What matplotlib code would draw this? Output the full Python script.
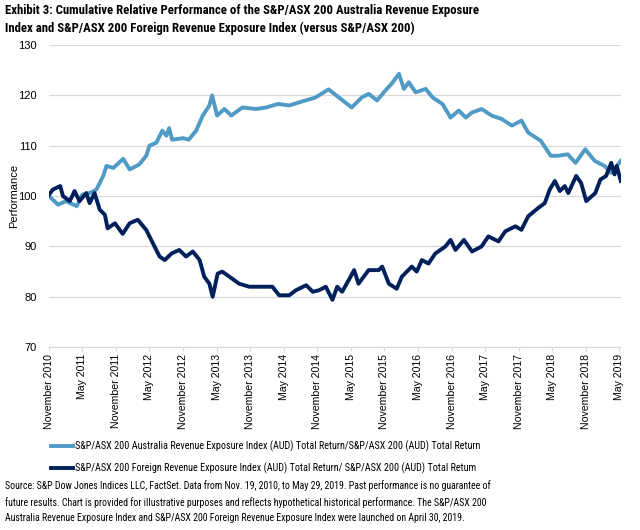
import matplotlib
matplotlib.use("Agg")
import matplotlib.pyplot as plt
import numpy as np
import pandas as pd

plt.rcParams['font.family'] = ['Liberation Sans', 'DejaVu Sans']
NARROW = ['Liberation Sans Narrow', 'Roboto Condensed', 'Archivo Narrow', 'Liberation Sans']

TITLE = ("Exhibit 3: Cumulative Relative Performance of the S&P/ASX 200 Australia Revenue Exposure\n"
         "Index and S&P/ASX 200 Foreign Revenue Exposure Index (versus S&P/ASX 200)")
SOURCE = ("Source: S&P Dow Jones Indices LLC, FactSet. Data from Nov. 19, 2010, to May 29, 2019. Past performance is no guarantee of\n"
          "future results. Chart is provided for illustrative purposes and reflects hypothetical historical performance. The S&P/ASX 200\n"
          "Australia Revenue Exposure Index and S&P/ASX 200 Foreign Revenue Exposure Index were launched on April 30, 2019.")
aus_label = "S&P/ASX 200 Australia Revenue Exposure Index (AUD) Total Return/S&P/ASX 200 (AUD) Total Return"
for_label = "S&P/ASX 200 Foreign Revenue Exposure Index (AUD) Total Return/ S&P/ASX 200 (AUD) Total Retum"

# values
aus_dates = ["2010-11-19", "2011-01-07", "2011-02-19", "2011-04-19", "2011-05-19", "2011-06-28",
             "2011-08-04", "2011-09-10", "2011-09-28", "2011-11-04", "2011-12-28", "2012-02-01",
             "2012-03-25", "2012-05-01", "2012-05-19", "2012-06-25", "2012-07-28", "2012-08-19",
             "2012-09-03", "2012-09-19", "2012-11-19", "2012-12-19", "2013-01-28", "2013-03-05",
             "2013-04-10", "2013-04-25", "2013-05-22", "2013-07-01", "2013-08-07", "2013-10-07",
             "2013-12-19", "2014-02-13", "2014-04-19", "2014-06-19", "2014-08-10", "2014-11-10",
             "2015-01-19", "2015-03-16", "2015-05-25", "2015-07-19", "2015-08-25", "2015-10-10",
             "2015-11-25", "2015-12-28", "2016-02-06", "2016-03-04", "2016-03-31", "2016-05-07",
             "2016-07-01", "2016-08-07", "2016-09-30", "2016-11-13", "2016-12-28", "2017-02-04",
             "2017-03-10", "2017-05-01", "2017-06-25", "2017-08-19", "2017-10-13", "2017-12-04",
             "2018-01-10", "2018-03-19", "2018-05-13", "2018-06-19", "2018-08-13", "2018-09-25",
             "2018-11-16", "2019-01-07", "2019-03-01", "2019-04-07", "2019-05-29"]
aus_values = [100, 98.3, 99, 98, 100.3, 100.6,
              101.3, 104, 106, 105.6, 107.4, 105.3,
              106.3, 108, 110, 110.6, 113, 112,
              113.5, 111.2, 111.5, 111.2, 113, 116,
              118, 120, 116, 117.3, 116, 117.6,
              117.3, 117.6, 118.3, 118, 118.6, 119.6,
              121.2, 119.6, 117.6, 119.6, 120.3, 119,
              121, 122.3, 124.3, 121.3, 122.6, 120.6,
              121.3, 119.6, 118.3, 115.6, 117, 115.6,
              116.6, 117.3, 116, 115.3, 114, 115,
              112.6, 111, 108, 108, 108.3, 106.6,
              109.3, 107, 106, 104.6, 107]

for_dates = ["2010-11-19", "2010-12-10", "2011-01-19", "2011-02-03", "2011-03-12", "2011-04-07",
             "2011-05-04", "2011-06-10", "2011-06-28", "2011-07-25", "2011-08-22", "2011-09-19",
             "2011-10-04", "2011-11-13", "2011-12-25", "2012-02-01", "2012-03-16", "2012-05-01",
             "2012-06-07", "2012-07-13", "2012-08-10", "2012-09-16", "2012-10-28", "2012-12-04",
             "2013-01-10", "2013-02-16", "2013-03-13", "2013-04-10", "2013-04-28", "2013-05-25",
             "2013-06-19", "2013-07-28", "2013-09-19", "2013-11-13", "2014-01-25", "2014-03-19",
             "2014-04-25", "2014-06-19", "2014-07-25", "2014-09-19", "2014-10-25", "2014-11-28",
             "2015-01-04", "2015-02-09", "2015-03-07", "2015-04-03", "2015-05-19", "2015-06-07",
             "2015-07-01", "2015-08-25", "2015-10-19", "2015-11-07", "2015-12-13", "2016-01-25",
             "2016-02-22", "2016-04-16", "2016-05-13", "2016-06-10", "2016-07-16", "2016-08-22",
             "2016-10-16", "2016-11-13", "2016-12-10", "2017-01-25", "2017-03-10", "2017-05-01",
             "2017-06-07", "2017-08-01", "2017-09-07", "2017-11-01", "2017-12-04", "2018-01-10",
             "2018-03-04", "2018-04-10", "2018-05-07", "2018-06-04", "2018-07-01", "2018-07-28",
             "2018-08-16", "2018-09-28", "2018-10-25", "2018-11-22", "2019-01-10", "2019-02-07",
             "2019-03-10", "2019-04-07", "2019-04-25", "2019-05-07", "2019-05-29"]
for_values = [100.3, 101.3, 102, 100, 99, 101,
              99, 100.6, 98.6, 100.6, 97.3, 96.3,
              93.6, 94.6, 92.5, 94.6, 95.3, 93.3,
              90.6, 88, 87.3, 88.6, 89.3, 88,
              89, 87.3, 84, 82.6, 80, 84.6,
              85, 84, 82.6, 82, 82, 82,
              80.3, 80.3, 81.3, 82.3, 81, 81.3,
              82, 79.4, 82, 81, 84, 85.3,
              82.6, 85.3, 85.3, 86, 82.6, 81.6,
              84, 86, 85, 87.3, 86.6, 88.6,
              90, 91.3, 89.3, 91.3, 89, 90,
              92, 91, 93, 94, 93.3, 96,
              97.6, 98.6, 101.3, 103, 101, 102,
              100.6, 104, 102.6, 99, 100.6, 103.3,
              104, 106.6, 104.3, 106, 103]

aus_color = "#4f9bc6"
for_color = "#00205b"
grid_color = "#d9d9d9"

fig = plt.figure(figsize=(6.4, 5.3), dpi=100)
ax = fig.add_axes([0.0766, 0.345, 0.8934, 0.57])

l1, = ax.plot(pd.to_datetime(aus_dates), aus_values, color=aus_color, lw=2.8, solid_joinstyle="round")
l2, = ax.plot(pd.to_datetime(for_dates), for_values, color=for_color, lw=2.8, solid_joinstyle="round")

ax.set_ylim(70, 130)
ax.set_yticks(np.arange(70, 131, 10))
ax.set_xlim(pd.Timestamp("2010-11-19"), pd.Timestamp("2019-05-29"))
ticks = pd.date_range("2010-11-01", "2019-05-01", freq="6MS") + pd.Timedelta(days=18)
ax.set_xticks(ticks)
ax.set_xticklabels([t.strftime("%B %Y") for t in ticks], rotation=90, fontsize=7.6)
ax.tick_params(axis="y", labelsize=8, length=0, pad=9)
ax.tick_params(axis="x", length=3, color=grid_color, pad=2)
ax.grid(axis="y", color=grid_color, lw=0.9)
ax.set_axisbelow(True)
for s in ["top", "right", "left"]:
    ax.spines[s].set_visible(False)
ax.spines["bottom"].set_color(grid_color)
ax.set_ylabel("Performance", fontsize=8)
ax.yaxis.set_label_coords(-0.053, 0.5)

fig.text(0.008, 0.992, TITLE, fontsize=9.2, fontweight="bold", va="top", ha="left",
         family=NARROW, linespacing=1.4)

leg = fig.legend([l1, l2], [aus_label, for_label], loc="upper left", bbox_to_anchor=(0.065, 0.186),
                 frameon=False, prop={"family": NARROW, "size": 7.3},
                 handlelength=2.2, handletextpad=0.15, labelspacing=1.05)

fig.text(0.008, 0.094, SOURCE, fontsize=7.1, va="top", ha="left", linespacing=1.65, family=NARROW)

fig.savefig("out.png", dpi=100)
